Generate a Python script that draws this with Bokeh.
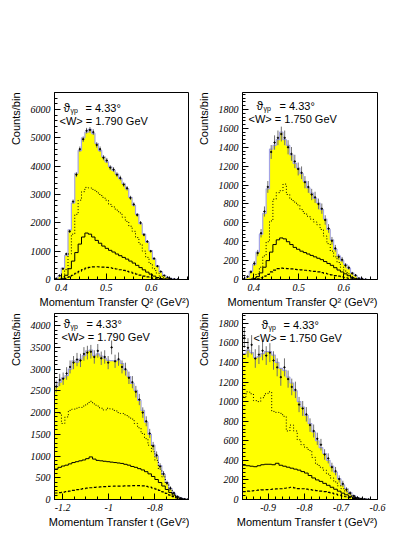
import math
import numpy as np
from bokeh.plotting import figure
from bokeh.models import FixedTicker, Range1d, Title, Label
from bokeh.layouts import row, column
from bokeh.embed import file_html
from bokeh.resources import INLINE

# ---------------- data ----------------
# Panel A: Q^2, <W> = 1.790 GeV
A_bin_start, A_bin_width = 0.385, 0.0075
A_total = [30, 120, 400, 850, 1750, 2700, 3750, 4550, 5000, 5200, 5300, 5150, 4800, 4550, 4330,
           4150, 3980, 3850, 3720, 3560, 3380, 3200, 2900, 2620, 2300, 1970, 1600, 1320, 1020, 720,
           480, 270, 150, 70, 35, 15, 5, 0]
A_data = [35, 140, 380, 900, 1700, 2750, 3700, 4600, 4950, 5250, 5280, 5200, 4750, 4600, 4300,
          4200, 3950, 3880, 3700, 3580, 3350, 3220, 2880, 2650, 2280, 2000, 1580, 1340, 1000, 740,
          470, 280, 140, 75, 30, 12, 4, 0]
A_dotted = [0, 10, 100, 350, 900, 1600, 2300, 2800, 3100, 3250, 3230, 3180, 3100, 3000, 2900,
            2800, 2650, 2560, 2450, 2350, 2200, 2050, 1880, 1700, 1480, 1250, 1000, 780, 560, 380,
            230, 120, 60, 25, 10, 3, 0, 0]
A_solid = [0, 5, 40, 150, 380, 650, 950, 1250, 1500, 1640, 1600, 1500, 1380, 1280, 1180,
           1100, 1030, 970, 900, 840, 780, 720, 650, 580, 500, 420, 340, 260, 190, 120,
           70, 35, 15, 5, 0, 0, 0, 0]
A_dashed = [0, 2, 15, 40, 90, 150, 220, 290, 350, 400, 430, 445, 450, 445, 440,
            430, 415, 395, 370, 345, 320, 290, 260, 225, 190, 155, 120, 90, 65, 40,
            25, 12, 5, 2, 0, 0, 0, 0]

# Panel B: Q^2, <W> = 1.750 GeV
B_bin_start, B_bin_width = 0.375, 0.0075
B_total = [5, 25, 85, 160, 290, 480, 700, 960, 1380, 1420, 1480, 1560, 1480, 1420, 1320,
           1230, 1180, 1120, 1040, 970, 915, 860, 810, 740, 640, 530, 420, 320, 250, 200,
           160, 120, 70, 40, 15, 5, 2, 0]
B_data = [5, 30, 80, 170, 280, 490, 720, 980, 1350, 1450, 1500, 1540, 1500, 1400, 1330,
          1250, 1170, 1130, 1030, 980, 900, 870, 800, 750, 630, 540, 410, 330, 240, 210,
          150, 125, 65, 45, 12, 6, 1, 0]
B_dotted = [0, 0, 5, 20, 60, 130, 250, 400, 620, 850, 920, 940, 1010, 900, 850,
            820, 790, 740, 700, 670, 640, 610, 580, 530, 460, 380, 300, 240, 180, 130,
            90, 60, 30, 12, 5, 0, 0, 0]
B_solid = [0, 0, 2, 10, 30, 70, 130, 200, 290, 370, 420, 440, 430, 400, 370,
           340, 320, 300, 285, 270, 255, 240, 225, 210, 190, 170, 150, 125, 100, 80,
           60, 40, 20, 8, 3, 0, 0, 0]
B_dashed = [0, 0, 0, 3, 8, 18, 35, 55, 80, 100, 115, 120, 118, 115, 112,
            108, 105, 102, 98, 95, 90, 85, 80, 72, 65, 58, 50, 42, 35, 28,
            20, 13, 7, 3, 1, 0, 0, 0]

# Panel C: t, <W> = 1.790 GeV
C_bin_start, C_bin_width = -1.235, 0.015
C_total = [2590, 2700, 2800, 2850, 3000, 3190, 3160, 3230, 3310, 3420, 3440, 3310, 3350, 3300, 3250,
           3200, 3195, 3190, 3210, 3130, 2980, 2830, 2670, 2510, 2280, 2050, 1780, 1500, 1250, 1000,
           780, 580, 390, 250, 140, 70, 30, 10, 2]
C_data = [2600, 2750, 2780, 2900, 3050, 3150, 3220, 3200, 3350, 3380, 3400, 3280, 3420, 3250, 3280,
          3150, 3500, 3180, 3230, 3050, 3000, 2800, 2700, 2480, 2300, 2000, 1800, 1520, 1230, 1020,
          760, 590, 380, 260, 150, 65, 30, 8, 1]
C_dotted = [2000, 1980, 1750, 1900, 2050, 2080, 2100, 2120, 2150, 2200, 2260, 2200, 2150, 2100, 2060,
            2100, 2080, 2050, 2000, 1980, 1950, 1900, 1850, 1750, 1650, 1520, 1400, 1250, 1100, 900,
            700, 520, 360, 220, 120, 55, 20, 5, 0]
C_solid = [700, 740, 770, 790, 820, 850, 870, 890, 910, 940, 980, 930, 900, 890, 880,
           870, 860, 850, 840, 830, 810, 790, 760, 740, 710, 680, 640, 590, 530, 460,
           390, 310, 230, 160, 100, 55, 25, 8, 2]
C_dashed = [150, 160, 170, 180, 195, 210, 225, 240, 250, 260, 270, 280, 285, 290, 295,
            300, 305, 308, 310, 310, 312, 315, 318, 320, 318, 312, 300, 285, 265, 240,
            210, 175, 140, 100, 65, 35, 15, 5, 1]

# Panel D: t, <W> = 1.750 GeV
D_bin_start, D_bin_width = -0.97, 0.01
D_total = [1490, 1525, 1500, 1450, 1460, 1490, 1510, 1510, 1475, 1400, 1340, 1320, 1250, 1190, 1110,
           1000, 945, 860, 775, 690, 600, 530, 470, 400, 340, 280, 210, 150, 110, 70,
           40, 20, 10, 4, 2, 0, 0]
D_data = [1650, 1550, 1580, 1440, 1480, 1520, 1470, 1500, 1420, 1350, 1250, 1350, 1230, 1150, 1120,
          970, 930, 870, 760, 700, 620, 560, 460, 420, 330, 290, 210, 160, 100, 65,
          35, 20, 8, 3, 1, 0, 0]
D_dotted = [1050, 1100, 1080, 1010, 1000, 1040, 1080, 1100, 900, 890, 880, 850, 700, 760, 700,
            610, 560, 530, 500, 430, 360, 330, 300, 260, 220, 180, 140, 110, 80, 55,
            35, 18, 8, 3, 1, 0, 0]
D_solid = [350, 345, 340, 335, 345, 355, 360, 360, 355, 370, 350, 340, 330, 320, 310,
           300, 285, 270, 245, 220, 200, 185, 165, 145, 125, 105, 85, 65, 48, 32,
           20, 10, 5, 2, 1, 0, 0]
D_dashed = [80, 85, 88, 92, 95, 98, 100, 102, 105, 108, 110, 115, 120, 125, 118,
            112, 110, 105, 100, 95, 90, 85, 80, 72, 65, 55, 45, 36, 28, 20,
            12, 7, 3, 1, 0, 0, 0]

ERR_SCALE = {"A": 1.4, "B": 2.0, "C": 2.7, "D": 2.5}
ANGLE_TEXT = "4.33°"
W_TEXT = {"A": "1.790", "B": "1.750", "C": "1.790", "D": "1.750"}
XTITLE_Q2 = "Momentum Transfer Q² (GeV²)"
XTITLE_T = "Momentum Transfer t (GeV²)"
YTITLE = "Counts/bin"

YELLOW = "#ffff00"
OUTLINE = "#a4a4e4"
SANS = "Liberation Sans"
SERIF = "Liberation Serif"


def step_xy(edges, vals):
    xs = list(edges)
    ys = list(vals) + [vals[-1]]
    return xs, ys


def make_panel(key, start, width, total, data, dotted, solid, dashed,
               xr, yr, xmaj, xmin_step, ymaj, ymin_step, xtitle,
               borders, fsize, toff):
    n = len(total)
    edges = start + width * np.arange(n + 1)
    centers = 0.5 * (edges[:-1] + edges[1:])
    bl, br, bt, bb = borders
    p = figure(frame_width=fsize[0], frame_height=fsize[1],
               x_range=Range1d(*xr), y_range=Range1d(*yr),
               output_backend="svg", toolbar_location=None,
               min_border_left=bl, min_border_right=br,
               min_border_top=bt, min_border_bottom=bb)
    p.grid.visible = False
    p.outline_line_color = "black"
    p.outline_line_width = 1
    p.background_fill_color = "white"
    p.border_fill_color = "white"

    # yellow filled histogram
    px = np.repeat(edges, 2)
    py = np.concatenate([[0], np.repeat(np.array(total, float), 2), [0]])
    p.patch(px, py, fill_color=YELLOW, line_color=None)
    xs, ys = step_xy(edges, total)
    p.step(xs, ys, mode="after", line_color=OUTLINE, line_width=1.2)

    xs, ys = step_xy(edges, dotted)
    p.step(xs, ys, mode="after", line_color="black", line_width=1, line_dash="1 2")
    xs, ys = step_xy(edges, solid)
    p.step(xs, ys, mode="after", line_color="black", line_width=1)
    xs, ys = step_xy(edges, dashed)
    p.step(xs, ys, mode="after", line_color="black", line_width=1.2, line_dash="3 2")

    d = np.array(data, float)
    err = ERR_SCALE[key] * np.sqrt(d)
    mask = d > 0
    p.segment(x0=centers[mask], y0=(d - err)[mask], x1=centers[mask], y1=(d + err)[mask],
              line_color="#707070", line_width=1)
    p.scatter(centers[mask], d[mask], size=1.4, color="black")

    xminor = list(np.arange(math.floor(xr[0] / xmin_step) * xmin_step, xr[1] + 1e-9, xmin_step))
    yminor = list(np.arange(0, yr[1] + 1e-9, ymin_step))
    p.xaxis.ticker = FixedTicker(ticks=xmaj, minor_ticks=xminor)
    yt = list(np.arange(0, yr[1] + 1e-9, ymaj))
    p.yaxis.ticker = FixedTicker(ticks=yt, minor_ticks=yminor)
    p.xaxis.major_label_overrides = {v: ("%g" % v) for v in xmaj}
    for ax in (p.xaxis[0], p.yaxis[0]):
        ax.major_tick_in = 6
        ax.major_tick_out = 0
        ax.minor_tick_in = 3
        ax.minor_tick_out = 0
        ax.axis_line_color = "black"
        ax.major_tick_line_color = "black"
        ax.minor_tick_line_color = "black"
        ax.major_label_text_font = SERIF
        ax.major_label_text_font_style = "italic"
        ax.major_label_text_color = "black"
        ax.major_label_standoff = 4
    p.yaxis.major_label_text_font_size = "10px"
    p.xaxis.major_label_text_font_size = "10px"

    # axis titles (right / top aligned, as in the original)
    p.add_layout(Title(text=xtitle, align="right", text_font=SANS, text_font_size="11px",
                       text_font_style="normal", text_color="black", standoff=0, offset=0),
                 "below")
    p.add_layout(Title(text=YTITLE, align="right", text_font=SANS, text_font_size="11px",
                       text_font_style="normal", text_color="black", standoff=12, offset=0),
                 "left")

    # in-frame annotation
    tx1, tx2, tx3, ty1, ty2 = toff
    p.add_layout(Label(x=xr[0], y=yr[1], x_offset=tx1, y_offset=-ty1, text="ϑ",
                       text_font=SANS, text_font_size="12px", text_baseline="alphabetic",
                       text_color="black"))
    p.add_layout(Label(x=xr[0], y=yr[1], x_offset=tx1 + 7, y_offset=-ty1 - 3, text="γp",
                       text_font=SANS, text_font_size="7px", text_baseline="alphabetic",
                       text_color="black"))
    p.add_layout(Label(x=xr[0], y=yr[1], x_offset=tx2, y_offset=-ty1, text="= " + ANGLE_TEXT,
                       text_font=SANS, text_font_size="11px", text_baseline="alphabetic",
                       text_color="black"))
    p.add_layout(Label(x=xr[0], y=yr[1], x_offset=tx3, y_offset=-ty2,
                       text="<W> = " + W_TEXT[key] + " GeV",
                       text_font=SANS, text_font_size="11px", text_baseline="alphabetic",
                       text_color="black"))
    return p


pA = make_panel("A", A_bin_start, A_bin_width, A_total, A_data, A_dotted, A_solid, A_dashed,
                (0.385, 0.685), (0, 6600), [0.4, 0.5, 0.6], 0.02, 1000, 200, XTITLE_Q2,
                (54, 0, 92, 34), (135, 187), (9, 31, 5, 15, 28))
pB = make_panel("B", B_bin_start, B_bin_width, B_total, B_data, B_dotted, B_solid, B_dashed,
                (0.375, 0.675), (0, 1980), [0.4, 0.5, 0.6], 0.02, 200, 40, XTITLE_Q2,
                (49, 20, 92, 34), (135, 187), (14, 37, 6, 13, 26))
pC = make_panel("C", C_bin_start, C_bin_width, C_total, C_data, C_dotted, C_solid, C_dashed,
                (-1.235, -0.65), (0, 4280), [-1.2, -1.0, -0.8], 0.05, 500, 100, XTITLE_T,
                (54, 0, 0, 30), (135, 186), (9, 32, 7, 10, 23))
pD = make_panel("D", D_bin_start, D_bin_width, D_total, D_data, D_dotted, D_solid, D_dashed,
                (-0.97, -0.6), (0, 1900), [-0.9, -0.8, -0.7, -0.6], 0.02, 200, 40, XTITLE_T,
                (49, 20, 0, 30), (135, 186), (19, 41, 11, 11, 24))

layout = column(row(pA, pB), row(pC, pD))
open("out.html", "w").write(file_html(layout, INLINE))
